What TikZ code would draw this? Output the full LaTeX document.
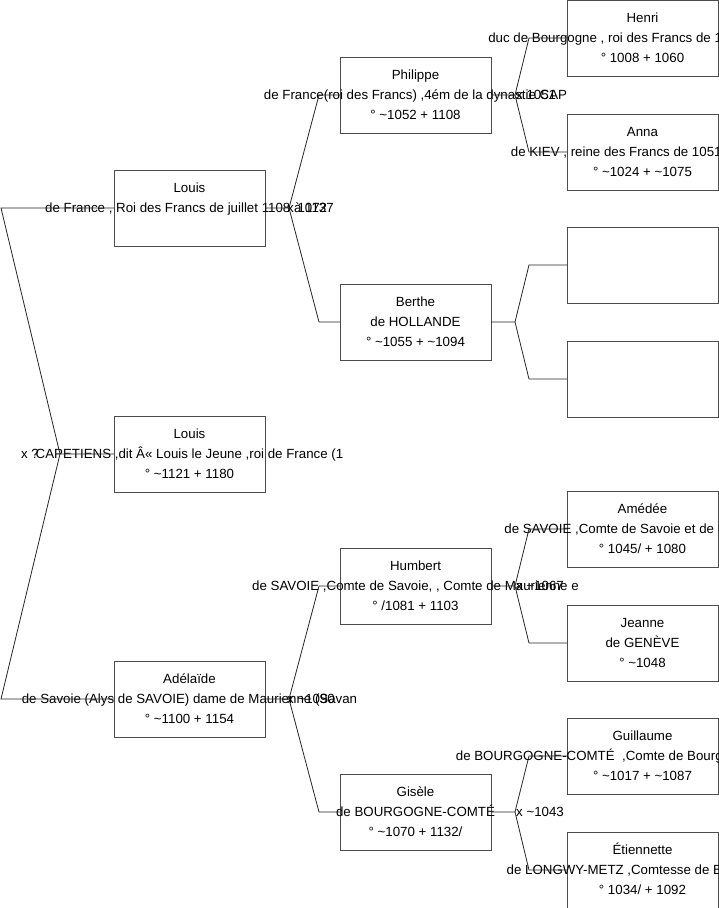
\documentclass[tikz,border=0pt]{standalone}
\usepackage{fontspec}
\setmainfont{Liberation Sans}
\usetikzlibrary{calc}

% three centred lines that may run out of the box
\newcommand{\who}[3]{\makebox[0pt]{\strut#1}\\\makebox[0pt]{\strut#2}\\\makebox[0pt]{\strut#3}}
\newcommand{\circa}{\textasciitilde}

\begin{document}
\begin{tikzpicture}[
  x=1pt, y=-1pt,
  font=\fontsize{13.3}{20}\selectfont,
  pbox/.style={draw=black!70, line width=1pt, minimum width=151pt, minimum height=76pt,
               inner sep=0pt, outer sep=0pt, align=center},
  link/.style={draw=black!85, line width=0.8pt},
  wed/.style={inner sep=1pt, anchor=west}
]
\useasboundingbox (0,0) rectangle (719,908);

% generation 1
\node[pbox] (louis6) at (189.5,208)
  {\who{Louis}{de France , Roi des Francs de juillet 1108 à 1137}{}};
\node[pbox] (louis7) at (189.5,454)
  {\who{Louis}{CAPETIENS ,dit Â« Louis le Jeune ,roi de France (1}{° \circa1121 + 1180}};
\node[pbox] (adelaide) at (189.5,699)
  {\who{Adélaïde}{de Savoie (Alys de SAVOIE) dame de Maurienne (Savan}{° \circa1100 + 1154}};

% generation 2
\node[pbox] (philippe) at (415.5,95)
  {\who{Philippe}{de France(roi des Francs) ,4ém de la dynastie CAP}{° \circa1052 + 1108}};
\node[pbox] (berthe) at (415.5,322)
  {\who{Berthe}{de HOLLANDE}{° \circa1055 + \circa1094}};
\node[pbox] (humbert) at (415.5,586)
  {\who{Humbert}{de SAVOIE ,Comte de Savoie, , Comte de Maurienne e}{° /1081 + 1103}};
\node[pbox] (gisele) at (415.5,812)
  {\who{Gisèle}{de BOURGOGNE-COMTÉ}{° \circa1070 + 1132/}};

% generation 3
\node[pbox] (henri) at (642.5,38)
  {\who{Henri}{duc de Bourgogne , roi des Francs de 1031 à 1060 (}{° 1008 + 1060}};
\node[pbox] (anna) at (642.5,152)
  {\who{Anna}{de KIEV , reine des Francs de 1051 à 1060 (}{° \circa1024 + \circa1075}};
\node[pbox] (berthefa) at (642.5,265) {};
\node[pbox] (berthemo) at (642.5,379) {};
\node[pbox] (amedee) at (642.5,529)
  {\who{Amédée}{de SAVOIE ,Comte de Savoie et de Maurienne}{° 1045/ + 1080}};
\node[pbox] (jeanne) at (642.5,643)
  {\who{Jeanne}{de GENÈVE}{° \circa1048}};
\node[pbox] (guillaume) at (642.5,756)
  {\who{Guillaume}{de BOURGOGNE-COMTÉ \ ,Comte de Bourgogne et de Mâcon}{° \circa1017 + \circa1087}};
\node[pbox] (etiennette) at (642.5,870)
  {\who{Étiennette}{de LONGWY-METZ ,Comtesse de Bourgogne}{° 1034/ + 1092}};

% forks
\draw[link] (louis7.west) -- ++(-54,0) coordinate (w0)
  -- ([xshift=-113pt]louis6.west) -- (louis6.west);
\draw[link] (w0) -- ([xshift=-113pt]adelaide.west) -- (adelaide.west);

\draw[link] (louis6.east) -- ++(24,0) coordinate (w1)
  -- ([xshift=-21pt]philippe.west) -- (philippe.west);
\draw[link] (w1) -- ([xshift=-21pt]berthe.west) -- (berthe.west);
\draw[link] (adelaide.east) -- ++(24,0) coordinate (w2)
  -- ([xshift=-21pt]humbert.west) -- (humbert.west);
\draw[link] (w2) -- ([xshift=-21pt]gisele.west) -- (gisele.west);

\foreach \kid/\pa/\ma in {philippe/henri/anna, berthe/berthefa/berthemo,
                          humbert/amedee/jeanne, gisele/guillaume/etiennette} {
  \draw[link] (\kid.east) -- ++(24,0) coordinate (w-\kid)
    -- ([xshift=-38pt]\pa.west) -- (\pa.west);
  \draw[link] (w-\kid) -- ([xshift=-38pt]\ma.west) -- (\ma.west);
}

% marriages
\node[wed, anchor=east] (x0) at ([xshift=-20pt]w0) {x ?};
\node[wed] (x1) at ([xshift=-3pt]w1) {x 1072};
\node[wed] (x2) at ([xshift=-3pt]w2) {x \circa1090};
\node[wed] (x3) at (w-philippe) {x 1051};
\node[wed] (x4) at (w-humbert) {x \circa1067};
\node[wed] (x5) at (w-gisele) {x \circa1043};

\end{tikzpicture}
\end{document}
